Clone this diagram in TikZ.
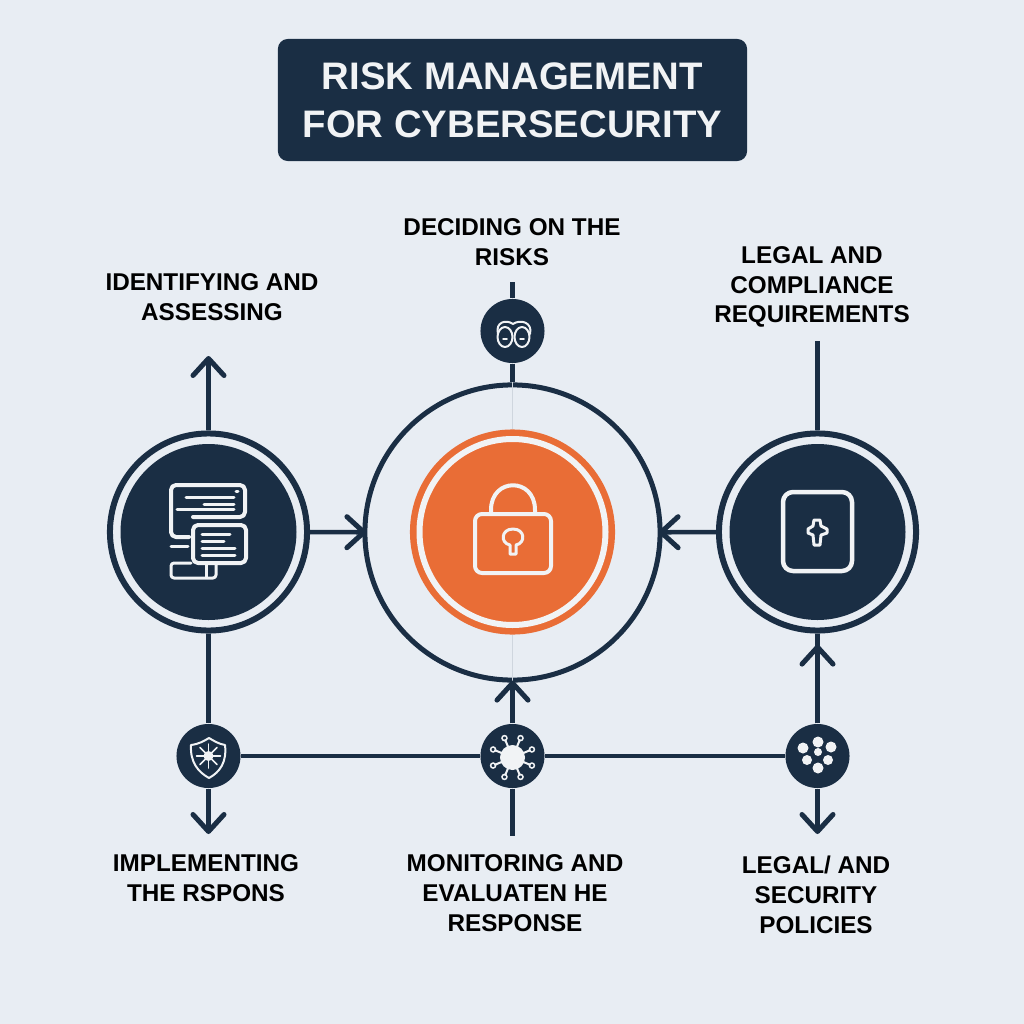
\documentclass[tikz,border=0pt]{standalone}
\usepackage{fontspec}
\setmainfont{Liberation Sans}
\usetikzlibrary{arrows.meta}
\definecolor{navy}{HTML}{1A2E44}
\definecolor{paper}{HTML}{E8EDF3}
\definecolor{tangerine}{HTML}{E96D36}
\definecolor{ringwhite}{HTML}{F1F3F5}
\tikzset{
	link/.style = {navy, line width=0.045cm},
	arrowed/.style = {link, -{Straight Barb[round,length=0.17cm,width=0.31cm,line width=0.05cm]}},
	hub/.style = {circle, draw=navy, fill=paper, line width=0.06cm, minimum size=1.97cm, inner sep=0pt},
	corehub/.style = {circle, draw=navy, line width=0.05cm, minimum size=2.95cm, inner sep=0pt},
	lockhub/.style = {circle, fill=tangerine, minimum size=2.05cm, inner sep=0pt},
	dot/.style = {circle, fill=navy, minimum size=0.64cm, inner sep=0pt},
	caption/.style = {text=black, font=\fontsize{6.9pt}{8.45pt}\selectfont\bfseries, align=center},
	glyph/.style = {ringwhite, line width=0.035cm, line join=round, line cap=round},
	banner/.style = {fill=navy, rounded corners=0.1cm, text=ringwhite, minimum width=4.69cm, minimum height=1.22cm, align=center, font=\fontsize{10.9pt}{13.7pt}\selectfont\bfseries}
}
\begin{document}
\begin{tikzpicture}[x=0.01cm,y=-0.01cm]
\fill[paper] (0,0) rectangle (1024,1024);
\useasboundingbox (0,0) rectangle (1024,1024);

\node[banner] (title) at (512.5,100) {RISK MANAGEMENT\\FOR CYBERSECURITY};

\node[corehub] (core) at (512.5,532.5) {};
\node[lockhub] (lock) at (512.5,532) {};
\node[hub] (assess) at (208.5,532) {};
\node[hub] (legal) at (817.5,532) {};
\foreach \hub in {assess,legal}
{
	\fill[navy] (\hub) circle [radius=88];
};
\draw[ringwhite,line width=0.06cm] (lock) circle [radius=93];
\draw[paper!88!navy,line width=0.01cm] (core.north) -- (lock.north);
\draw[paper!88!navy,line width=0.01cm] (lock.south) -- (core.south);

\node[dot] (decide) at (512.5,331) {};
\node[dot] (shield) at (208.5,756) {};
\node[dot] (virus) at (512.5,756) {};
\node[dot] (network) at (817.5,756) {};

\coordinate (assesstop) at (208.5,356);
\coordinate (decidetop) at (512.5,282);
\coordinate (legaltop) at (817.5,341);
\coordinate (shieldend) at (208.5,834);
\coordinate (virusend) at (512.5,836);
\coordinate (networkend) at (817.5,834);

\node[caption] (assesstext) at (212,297) {IDENTIFYING AND\\ASSESSING};
\node[caption] (decidetext) at (512,242) {DECIDING ON THE\\RISKS};
\node[caption] (legaltext) at (812,287) {LEGAL AND\\COMPLIANCE\\REQUIREMENTS};
\node[caption] (shieldtext) at (206,878) {IMPLEMENTING\\THE RSPONS};
\node[caption] (virustext) at (515,893) {MONITORING AND\\EVALUATEN HE\\RESPONSE};
\node[caption] (networktext) at (816,895) {LEGAL/ AND\\SECURITY\\POLICIES};

\draw[arrowed] (assess) -- (assesstop);
\draw[arrowed,shorten >=-0.04cm] (assess) -- (core);
\draw[arrowed,shorten >=-0.04cm] (legal) -- (core);
\draw[link] (decidetop) -- (decide);
\draw[link] (decide) -- (core);
\draw[link] (legaltop) -- (legal);
\draw[link] (assess) -- (shield);
\draw[arrowed] (shield) -- (shieldend);
\draw[link] (shield) -- (virus);
\draw[link] (virus) -- (network);
\draw[arrowed,shorten >=-0.02cm] (virus) -- (core);
\draw[link] (virus) -- (virusend);
\draw[link] (network) -- (legal);
\draw[arrowed,shorten >=0.11cm] (network) -- (legal);
\draw[arrowed] (network) -- (networkend);

% screens
\draw[glyph,line width=0.04cm,rounded corners=0.05cm] (189,537) -- (171,537) -- (171,485) -- (245,485) -- (245,517) -- (193,517);
\draw[glyph,line width=0.04cm,rounded corners=0.05cm] (193,525) rectangle (246,563);
\draw[glyph,line width=0.03cm] (186,497) -- (234,497);
\draw[glyph,line width=0.03cm] (204,504) -- (234,504);
\draw[glyph,line width=0.03cm] (177,509) -- (234,509);
\draw[glyph,line width=0.03cm] (236,491) -- (238,491);
\draw[glyph,line width=0.03cm] (202,534) -- (230,534);
\draw[glyph,line width=0.03cm] (202,541) -- (224,541);
\draw[glyph,line width=0.03cm] (202,548) -- (235,548);
\draw[glyph,line width=0.03cm] (202,555) -- (235,555);
\draw[glyph,line width=0.03cm] (171,546) -- (188,546);
\draw[glyph,line width=0.03cm,rounded corners=0.03cm] (191,563) -- (171,563) -- (171,578) -- (216,578) -- (216,564);
\draw[glyph,line width=0.03cm] (206,564) -- (206,577);

% lock
\draw[glyph,rounded corners=0.07cm,line width=0.04cm] (475,514) rectangle (551,573);
\draw[glyph,line width=0.04cm] (491,513) -- (491,510) .. controls (491,477) and (535,477) .. (535,510) -- (535,513);
\draw[glyph,line width=0.03cm] (510,545) -- (510,554) -- (516,554) -- (516,545) .. controls (526,543) and (525,529) .. (513,529) .. controls (501,529) and (500,543) .. (510,545);

% card
\draw[glyph,rounded corners=0.1cm,line width=0.045cm] (783,492) rectangle (852,571);
\draw[glyph,line width=0.03cm] (814,520) -- (820,520) -- (821,526) -- (827,529) -- (827,533) -- (821,535) -- (820,545) -- (814,545) -- (813,535) -- (808,533) -- (808,529) -- (813,526) -- cycle;

% binoculars
\draw[glyph,line width=0.02cm] (505,337) ellipse [x radius=7.5, y radius=10];
\draw[glyph,line width=0.02cm] (522,337) ellipse [x radius=7.5, y radius=10];
\draw[glyph,line width=0.02cm] (498,334) .. controls (495,322) and (506,319) .. (513,324) .. controls (520,319) and (533,322) .. (530,334);
\draw[glyph,line width=0.015cm] (503,339) -- (507,339);
\draw[glyph,line width=0.015cm] (520,339) -- (524,339);

% shield
\draw[glyph,line width=0.02cm] (191,745) .. controls (199,744) and (204,741) .. (209,738) .. controls (214,741) and (219,744) .. (225,745) .. controls (227,762) and (220,772) .. (209,778) .. controls (198,772) and (190,762) .. (191,745);
\fill[ringwhite] (shield.center) circle [radius=5];
\foreach \spoke in {0,45,...,315}
{
	\draw[glyph,line width=0.015cm] (shield.center) -- ++(\spoke:12);
};

% virus
\fill[ringwhite] (512.5,757.5) circle [radius=12.5];
\foreach \spoke in {22.5,67.5,...,337.5}
{
	\draw[glyph,line width=0.02cm] (512.5,757.5) -- ++(\spoke:19);
	\draw[ringwhite,line width=0.015cm] (512.5,757.5) ++(\spoke:21) circle [radius=2.5];
};

% network
\foreach \px/\py/\pr in {818/742/5.5,803/748/5.5,831/747/5.5,807/760/5,828/760/5,818/768/5.5,818/752/4}
{
	\fill[ringwhite] (\px,\py) circle [radius=\pr];
};
\end{tikzpicture}
\end{document}
